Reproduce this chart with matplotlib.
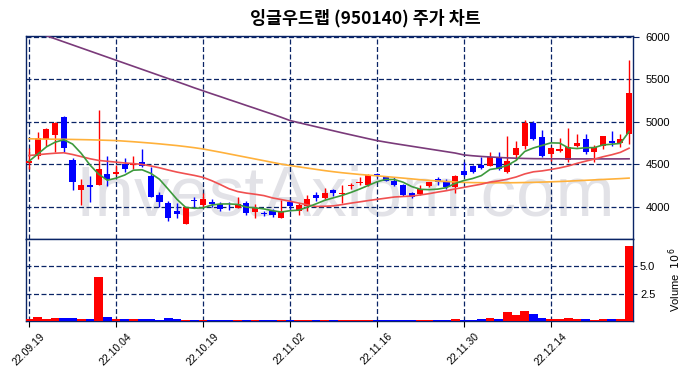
import numpy as np
import pandas as pd
import matplotlib
matplotlib.use('Agg')
import matplotlib.pyplot as plt

plt.rcParams['font.family'] = ['Liberation Sans', 'DejaVu Sans']

title = '잉글우드랩 (950140) 주가 차트'
tick_labels = ['22.09.19', '22.10.04', '22.10.19', '22.11.02', '22.11.16', '22.11.30', '22.12.14']
tick_pos = [0, 10, 20, 30, 40, 50, 60]

open_ = [4516, 4600, 4800, 4850, 5060, 4550, 4200, 4260, 4255, 4385,
         4380, 4500, 4495, 4530, 4365, 4140, 4038, 3951, 3800, 4077,
         4022, 4058, 4030, 4012, 3990, 4042, 3943, 3925, 3951, 3872,
         4050, 3951, 4010, 4140, 4097, 4196, 4150, 4245, 4274, 4258,
         4385, 4353, 4298, 4258, 4160, 4148, 4239, 4326, 4286, 4227,
         4424, 4483, 4495, 4483, 4574, 4404, 4613, 4720, 4984, 4826,
         4621, 4652, 4550, 4720, 4798, 4641, 4720, 4779, 4751, 4857]
high = [4694, 4877, 4924, 5000, 5070, 4570, 4330, 4360, 5141, 4597,
        4495, 4574, 4597, 4680, 4471, 4168, 4069, 4038, 4000, 4117,
        4156, 4089, 4050, 4050, 4110, 4069, 4030, 3951, 3979, 4077,
        4089, 4038, 4140, 4175, 4219, 4207, 4258, 4274, 4345, 4385,
        4400, 4365, 4353, 4266, 4168, 4255, 4294, 4345, 4326, 4373,
        4530, 4495, 4590, 4640, 4640, 4834, 4770, 5020, 5015, 4900,
        4700, 4810, 4928, 4857, 4857, 4727, 4838, 4896, 4857, 5724]
low = [4450, 4562, 4720, 4650, 4640, 4200, 4020, 4050, 4250, 4247,
       4377, 4404, 4444, 4463, 4109, 3998, 3833, 3872, 3795, 3998,
       3998, 3998, 3951, 3963, 3990, 3904, 3872, 3885, 3880, 3865,
       3951, 3904, 3951, 4069, 4089, 4128, 4038, 4207, 4258, 4247,
       4345, 4298, 4247, 4128, 4100, 4140, 4227, 4258, 4207, 4160,
       4365, 4393, 4444, 4475, 4432, 4393, 4550, 4680, 4787, 4582,
       4542, 4640, 4522, 4700, 4620, 4522, 4680, 4720, 4700, 4740]
close = [4544, 4810, 4910, 4990, 4690, 4290, 4260, 4230, 4450, 4330,
         4410, 4445, 4515, 4475, 4120, 4060, 3865, 3920, 4000, 4062,
         4089, 4030, 3979, 4005, 4030, 3931, 3990, 3915, 3900, 3951,
         4010, 4022, 4089, 4097, 4160, 4156, 4165, 4260, 4294, 4377,
         4370, 4306, 4255, 4137, 4120, 4207, 4286, 4286, 4227, 4365,
         4377, 4404, 4456, 4590, 4444, 4542, 4692, 4984, 4798, 4593,
         4692, 4680, 4708, 4751, 4641, 4700, 4838, 4751, 4798, 5338]
volume = [190000, 370000, 190000, 280000, 280000, 280000, 190000, 190000, 4070000, 370000,
          190000, 190000, 190000, 190000, 190000, 90000, 280000, 190000, 90000, 90000,
          90000, 60000, 60000, 60000, 60000, 60000, 60000, 60000, 60000, 60000,
          60000, 60000, 60000, 60000, 60000, 60000, 80000, 80000, 80000, 80000,
          60000, 60000, 60000, 60000, 60000, 90000, 90000, 60000, 60000, 190000,
          60000, 90000, 190000, 280000, 190000, 830000, 560000, 930000, 650000, 280000,
          190000, 190000, 280000, 190000, 190000, 90000, 190000, 190000, 190000, 6850000]

# moving averages at the start of the window (earlier days are not on the chart)
ma5_head = [4536, 4620, 4705, 4760]
ma20_head = [4603, 4612, 4622, 4630, 4635, 4615, 4590, 4565, 4545, 4535,
             4525, 4515, 4508, 4498, 4480, 4458, 4432, 4408, 4388]
ma60 = [4800, 4798, 4796, 4795, 4794, 4792, 4790, 4788, 4785, 4782,
        4779, 4772, 4765, 4757, 4749, 4740, 4730, 4720, 4708, 4695,
        4680, 4661, 4642, 4622, 4602, 4582, 4562, 4542, 4522, 4502,
        4485, 4470, 4455, 4440, 4425, 4412, 4400, 4390, 4380, 4372,
        4364, 4355, 4346, 4337, 4328, 4318, 4310, 4303, 4297, 4291,
        4286, 4284, 4283, 4282, 4282, 4282, 4283, 4285, 4287, 4290,
        4293, 4297, 4301, 4306, 4311, 4316, 4321, 4326, 4331, 4337]
ma120 = [6085, 6049, 6013, 5977, 5941, 5905, 5869, 5833, 5797, 5761,
         5725, 5689, 5653, 5617, 5581, 5545, 5509, 5473, 5437, 5400,
         5365, 5330, 5296, 5261, 5227, 5192, 5158, 5123, 5089, 5053,
         5015, 4990, 4966, 4942, 4918, 4894, 4870, 4847, 4824, 4801,
         4779, 4761, 4744, 4728, 4712, 4696, 4680, 4664, 4648, 4632,
         4610, 4600, 4592, 4586, 4580, 4575, 4571, 4568, 4566, 4565,
         4564, 4564, 4563, 4563, 4563, 4563, 4563, 4563, 4563, 4564]

navy = '#0a2466'
dash = (0, (4, 2))

x = np.arange(len(close))
o = np.array(open_)
c = np.array(close)
up = c >= o
colors = np.where(up, '#ff0000', '#0000ff')

ma5 = pd.Series(close).rolling(5).mean().to_numpy()
ma5[:4] = ma5_head
ma20 = pd.Series(close).rolling(20).mean().to_numpy()
ma20[:19] = ma20_head

fig = plt.figure(figsize=(6.9, 3.78), dpi=100)
ax = fig.add_axes([26/690, 139/378, 607/690, 203/378])
axv = fig.add_axes([26/690, 57/378, 607/690, 82/378], sharex=ax)

fig.text(365/690, 1 - 18/378, title, ha='center', va='center', fontsize=12.5,
         fontweight='bold', family=['Noto Sans CJK KR', 'DejaVu Sans'])

# watermark
ax.text(0.5255, 0.114, 'InvestAxiom.com', transform=ax.transAxes, ha='center',
        va='baseline', fontsize=51, color='#e2e2e7', zorder=0.2)

# candles
ax.vlines(x, low, high, colors=colors, lw=1.0, zorder=2)
body = np.maximum(np.abs(c - o), 8)
ax.bar(x, body, bottom=np.minimum(o, c), width=0.7, color=colors, zorder=3)

ax.plot(x, ma120, color='#7a3a7a', lw=1.2, zorder=4)
ax.plot(x, ma60, color='#ffb13b', lw=1.2, zorder=4)
ax.plot(x, ma20, color='#f05050', lw=1.2, zorder=4)
ax.plot(x, ma5, color='#3d9a3d', lw=1.2, zorder=4)

ax.set_xlim(-0.35, 69.45)
ax.set_ylim(3620, 6010)
ax.set_yticks([4000, 4500, 5000, 5500, 6000])
ax.yaxis.tick_right()
ax.set_xticks(tick_pos)
ax.tick_params(axis='x', bottom=False, labelbottom=False)
ax.tick_params(axis='y', right=True, left=False, length=4, pad=5,
               labelsize=8, color=navy)
ax.set_axisbelow(True)
ax.grid(True, color=navy, ls=dash, lw=0.9)

# volume
axv.bar(x, volume, width=1.0, color=colors, zorder=3)
axv.set_ylim(0, 7.5e6)
axv.set_yticks([2.5e6, 5e6])
axv.set_yticklabels(['2.5', '5.0'])
axv.yaxis.tick_right()
axv.yaxis.set_label_position('right')
axv.set_ylabel('Volume  $10^{6}$', fontsize=8, labelpad=8)
axv.set_xticks(tick_pos)
axv.set_xticklabels(tick_labels, rotation=45)
axv.tick_params(axis='y', right=True, left=False, length=3, pad=2,
                labelsize=8, color=navy)
axv.tick_params(axis='x', length=4, labelsize=7.5, color='black')
axv.set_axisbelow(True)
axv.grid(True, color=navy, ls=dash, lw=0.9)

for a in (ax, axv):
    for s in a.spines.values():
        s.set_color(navy)
        s.set_linewidth(1.0)

fig.savefig('out.png', dpi=100)
